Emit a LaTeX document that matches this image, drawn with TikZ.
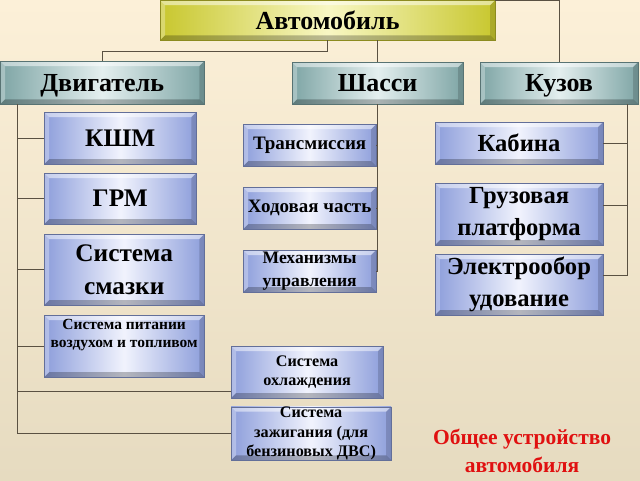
\documentclass[tikz,border=0pt]{standalone}
\usepackage{fontspec}
\setmainfont{Liberation Serif}
\usetikzlibrary{positioning}

\definecolor{bgtop}{HTML}{FCF0D8}
\definecolor{bgbot}{HTML}{E6DBC0}
\definecolor{lnk}{HTML}{5A5142}
\definecolor{bledge}{HTML}{8D9EDB}
\definecolor{blmid}{HTML}{F1F3FD}
\definecolor{tledge}{HTML}{7EA5A5}
\definecolor{tlmid}{HTML}{E4EFEF}
\definecolor{yledge}{HTML}{C8C72E}
\definecolor{ylmid}{HTML}{F8F7C4}
\definecolor{redtxt}{HTML}{E01010}

% bevel faces of a box
\newcommand{\bevelfaces}{%
  \def\bb{path picture bounding box}%
  \fill[white,opacity=.5] (\bb.north west) -- (\bb.north east)
    -- ([shift={(-3.5pt,-3.5pt)}]\bb.north east) -- ([shift={(3.5pt,-3.5pt)}]\bb.north west) -- cycle;
  \fill[white,opacity=.3] (\bb.north west) -- ([shift={(3.5pt,-3.5pt)}]\bb.north west)
    -- ([shift={(3.5pt,3.5pt)}]\bb.south west) -- (\bb.south west) -- cycle;
  \fill[black,opacity=.15] (\bb.north east) -- ([shift={(-3.5pt,-3.5pt)}]\bb.north east)
    -- ([shift={(-3.5pt,3.5pt)}]\bb.south east) -- (\bb.south east) -- cycle;
  \fill[black,opacity=.25] (\bb.south west) -- ([shift={(3.5pt,3.5pt)}]\bb.south west)
    -- ([shift={(-3.5pt,3.5pt)}]\bb.south east) -- (\bb.south east) -- cycle;
}

\tikzset{
  box/.style={inner sep=0pt, align=center, line width=0.3pt, path picture={\bevelfaces}},
  bluebox/.style={box, draw=bledge!70!black, left color=bledge, right color=bledge, middle color=blmid},
  tealbox/.style={box, draw=tledge!70!black, left color=tledge, right color=tledge, middle color=tlmid,
    text depth=0pt, font=\fontsize{18.5}{22}\selectfont\bfseries},
  topbox/.style={box, draw=yledge!70!black, left color=yledge, right color=yledge, middle color=ylmid,
    font=\fontsize{18.5}{22}\selectfont\bfseries},
  link/.style={draw=lnk, line width=0.7pt},
}

\begin{document}
\begin{tikzpicture}[x=0.025cm, y=-0.025cm]
\shade[top color=bgtop, bottom color=bgbot] (0,0) rectangle (640,480);

% top level
\node[topbox, minimum width=8.375cm, minimum height=1cm] (auto) at (327.5,20) {Автомобиль};
\node[tealbox, minimum width=5.1cm, minimum height=1.075cm] (dvig) at (102,82.5) {Двигатель};
\node[tealbox, minimum width=4.275cm, minimum height=1.05cm] (shassi) at (377.5,83) {Шасси};
\node[tealbox, minimum width=3.95cm, minimum height=1.05cm] (kuzov) at (559,83) {Кузов};

% engine
\node[bluebox, minimum width=3.8cm, minimum height=1.3cm, font=\fontsize{18}{22}\selectfont\bfseries] (ksm) at (120,138) {КШМ};
\node[bluebox, minimum width=3.8cm, minimum height=1.275cm, font=\fontsize{18}{22}\selectfont\bfseries] (grm) at (120,198.5) {ГРМ};
\node[bluebox, minimum width=4cm, minimum height=1.775cm, font=\fontsize{18}{23}\selectfont\bfseries] (smaz) at (124,269.5) {Система\\смазки};
\node[bluebox, minimum width=4cm, minimum height=1.55cm, font=\fontsize{11}{13}\selectfont\bfseries] (pitan) at (124,346) {Система питании\\воздухом и топливом\\[5pt]};
\node[bluebox, minimum width=3.8cm, minimum height=1.3cm, font=\fontsize{11.5}{14}\selectfont\bfseries] (ohl) at (307,372) {Система\\охлаждения};
\node[bluebox, minimum width=4cm, minimum height=1.325cm, font=\fontsize{11.5}{14}\selectfont\bfseries] (zaz) at (311,433.5) {Система\\зажигания (для\\бензиновых ДВС)};

% chassis
\node[bluebox, minimum width=3.325cm, minimum height=1.05cm, font=\fontsize{13.5}{16}\selectfont\bfseries] (trans) at (309.5,145) {Трансмиссия};
\node[bluebox, minimum width=3.325cm, minimum height=1.05cm, font=\fontsize{13.5}{16}\selectfont\bfseries] (hod) at (309.5,208) {Ходовая часть};
\node[bluebox, minimum width=3.325cm, minimum height=1.05cm, font=\fontsize{12.5}{16.5}\selectfont\bfseries] (meh) at (309.5,271) {Механизмы\\управления};

% body
\node[bluebox, minimum width=4.2cm, minimum height=1.05cm, font=\fontsize{17.5}{22}\selectfont\bfseries] (kab) at (519,143) {Кабина};
\node[bluebox, minimum width=4.2cm, minimum height=1.55cm, font=\fontsize{17.5}{23}\selectfont\bfseries] (gruz) at (519,214) {Грузовая\\платформа};
\node[bluebox, minimum width=4.2cm, minimum height=1.525cm, font=\fontsize{17.5}{23}\selectfont\bfseries] (elek) at (519,284.5) {Электрообор\\удование};

\node[text=redtxt, align=center, font=\fontsize{15.3}{19.5}\selectfont\bfseries] (title) at (522,451) {Общее устройство\\автомобиля};

% connectors
\draw[link] (auto.south) -- ++(0,11) -| (dvig.north);
\draw[link] (auto.south -| shassi.north) -- (shassi.north);
\draw[link] ([yshift=-0.7pt]auto.north east) -| (kuzov.north);

\coordinate (dv) at (17,104);
\draw[link] (dv) |- (ksm.west);
\draw[link] (dv) |- (grm.west);
\draw[link] (dv) |- (smaz.west);
\draw[link] (dv) |- (pitan.west);
\draw[link] (dv) |- ([yshift=-14pt]ohl.west);
\draw[link] (dv) |- (zaz.west);

\draw[link] (shassi.south) |- (trans.east);
\draw[link] (shassi.south) |- (hod.east);
\draw[link] (shassi.south) |- (meh.east);

\coordinate (kz) at (627,104);
\draw[link] (kz) |- (kab.east);
\draw[link] (kz) |- ([yshift=6.4pt]gruz.east);
\draw[link] (kz) |- ([yshift=6.4pt]elek.east);
\end{tikzpicture}
\end{document}
